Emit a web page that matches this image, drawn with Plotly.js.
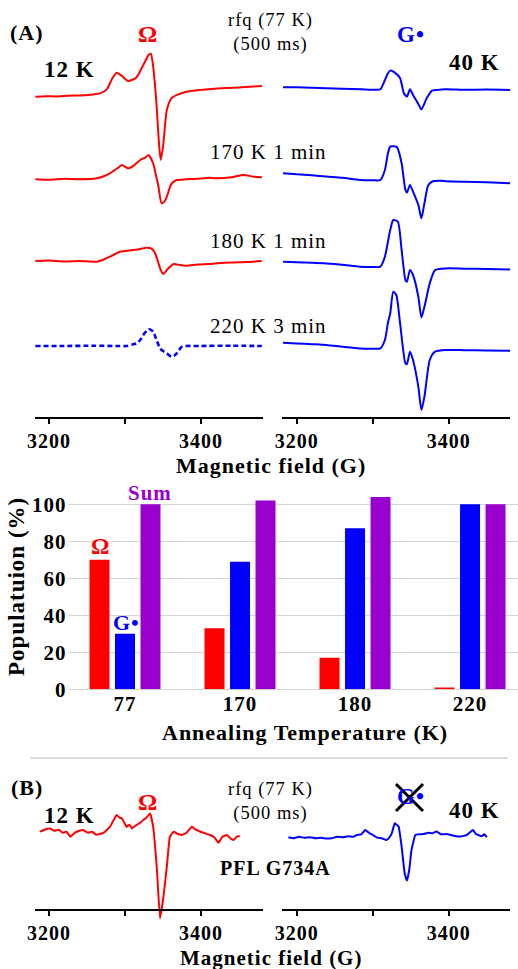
<!DOCTYPE html>
<html><head><meta charset="utf-8">
<script src="https://cdn.plot.ly/plotly-3.0.1.min.js"></script>
<style>body{margin:0;padding:0;background:#fff}#chart{width:518px;height:969px}svg text{letter-spacing:1px}</style>
</head><body><div id="chart"></div>
<script>
// ---------- DATA ----------
// Panel A, 12 K spectra (Omega radical), field in G, intensity in arbitrary units
const a1LeftField = [3182,3195,3210,3225,3240,3255,3267,3276,3283,3289,3296,3304,3315,3324,3331,3334,3337,3341,3345,3347,3350,3355,3361,3370,3381,3395,3410,3421,3435,3450,3465,3480];
const a1LeftInt   = [0,0.5,0.3,1,1.2,2,3.3,7.3,18,24,20.7,15.7,19.3,31.7,41.7,43,30,-3.3,-50,-63.3,-50,-13.3,-1.7,2.3,5,6.5,7.5,8.3,8.8,9.3,10,10.7];
const a2LeftField = [3182,3200,3220,3240,3263,3272,3280,3290,3296,3304,3312,3320,3327,3331,3337,3341,3344,3348,3352,3355,3360,3364,3368,3380,3395,3410,3421,3440,3456,3470,3480];
const a2LeftInt   = [0,-0.5,0.5,0,1,3,6,11,14.3,11,14,19.3,22,24.3,16,3,-7.3,-24,-22,-17.3,-6,-2.3,-0.7,0,0.5,1.5,1,2,4.3,2.5,2];
const a3LeftField = [3182,3200,3220,3240,3263,3272,3280,3287,3293,3300,3311,3320,3328,3333,3337,3341,3344,3347,3350,3354,3357,3364,3372,3381,3395,3410,3421,3440,3460,3480];
const a3LeftInt   = [0,0.5,-0.5,0,-0.7,1.5,4.3,7,9.3,10,11,12,13.3,13,11,5,-2.3,-9,-13,-10,-7.3,-3,-4,-4.7,-3.5,-3,-2.3,-1.5,-1,0];
const a4LeftField = [3182,3220,3260,3290,3302,3310,3315,3320,3324,3329,3332,3337,3341,3346,3350,3355,3361,3365,3368,3375,3400,3440,3480];
const a4LeftInt   = [0,0,0.3,0,0,1.5,2.7,6,11,15.5,16.7,14.3,7,-2.3,-5,-7.3,-10.7,-9.5,-7.3,-0.7,0,0.3,0];
// Panel A, 40 K spectra (G radical)
const a1RightField = [3182,3200,3220,3239,3260,3285,3305,3310,3316,3320,3323,3329,3336,3341,3345,3349,3353,3360,3364,3371,3378,3390,3397,3420,3450,3481];
const a1RightInt   = [0,0,-0.5,-1,-1.5,-2,-2.5,-2,7.3,14,16.7,14.7,9,-6,-9.3,-2,-7.7,-16.7,-22,-11,-3.3,-2.3,-2,-2.5,-2.3,-2.7];
const a2RightField = [3182,3200,3220,3239,3260,3283,3300,3310,3316,3320,3323,3328,3332,3338,3343,3345,3349,3353,3360,3364,3368,3373,3379,3390,3397,3420,3450,3481];
const a2RightInt   = [0,-1,-2,-3.3,-4.5,-6.7,-7,-6.7,3.3,20,26.7,27,26,10,-16.7,-19.3,-11.7,-18.3,-31.7,-45,-30,-12,-8,-7.5,-8,-8.5,-9,-10];
const a3RightField = [3182,3200,3220,3239,3260,3283,3300,3310,3316,3320,3323,3327,3333,3338,3343,3345,3349,3353,3360,3364,3368,3375,3382,3397,3420,3450,3481];
const a3RightInt   = [0,-0.5,-1,-1.7,-3,-5,-5.3,-5,5,20,31.7,41.7,40,11.7,-18.3,-20,-8.3,-13.3,-35,-55.7,-45,-21.7,-8.3,-6.7,-7,-7.3,-7.7];
const a4RightField = [3182,3200,3220,3239,3260,3283,3300,3310,3316,3320,3323,3327,3331,3336,3343,3345,3349,3353,3360,3364,3368,3375,3382,3397,3420,3450,3481];
const a4RightInt   = [0,-0.7,-1.5,-2.3,-4,-5.7,-6,-5.7,2.7,20,29.3,51,47.7,19.3,-20.7,-21.3,-9,-17.3,-44,-67.3,-54,-17.3,-9,-7.3,-7.5,-7.7,-8];
// Panel B, PFL G734A
const bLeftField = [3188,3194,3201,3207,3213,3218,3223,3228,3234,3240,3245,3251,3257,3262,3267,3272,3276,3281,3285,3289,3293,3296,3302,3306,3309,3315,3320,3324,3328,3333,3337,3342,3346,3350,3355,3359,3364,3369,3375,3381,3388,3393,3399,3405,3412,3418,3423,3428,3434,3439,3443,3447,3451];
const bLeftInt   = [0,2,3.3,1,2,-1,0,-5,-1,1,1.7,-1,0,-3,-2.3,-1,1.7,6,11.7,16.7,14,13.3,5,7,3.3,6.7,9,11.7,14,18.3,5,-38.3,-86.7,-68.3,-35,-5,0,-2,-3.3,-1,5,2,0,-1.5,-3.3,-6,-11,-5,-3.3,-7,-8.3,-5,-4.3];
const bRightField = [3189,3196,3203,3210,3218,3225,3232,3239,3246,3253,3261,3268,3274,3279,3285,3290,3296,3301,3305,3312,3318,3322,3325,3329,3334,3338,3342,3345,3348,3351,3356,3361,3367,3373,3378,3384,3390,3397,3404,3410,3415,3420,3424,3428,3432,3436,3439,3443,3447,3450];
const bRightInt   = [0,-1,0.5,-0.5,0,-1,-0.5,-1.3,-1,0.5,0,1,0.5,2.3,3,7.3,4,2,0,-1,-2.7,0,4,14,10.7,-9.3,-36,-43.3,-32.7,-12.7,2.3,3,3.3,4.5,4,5.7,3,3.3,2,1,0.7,1.5,2.3,5,7.3,3,2.3,1,3,0];
// Bar chart
const annealTemps = ['77','170','180','220'];
const omegaPop = [70,33,17,1];
const gPop     = [30,69,87,100];
const sumPop   = [100,102,104,100];
const fieldTickVals = [3200,3300,3400];
const fieldTickText = ['3200','','3400'];

// ---------- LAYOUT HELPERS ----------
const W=518,H=969;
const fx=x=>x/W, fy=y=>1-y/H;
const SERIF='"Liberation Serif", "Times New Roman", serif';
const RED='#ff0000', BLUE='#0000ff', PURPLE='#9900cc';

const spectra = [
  {x:a1LeftField,y:a1LeftInt,col:'x',ref:96.7,color:RED},
  {x:a2LeftField,y:a2LeftInt,col:'x',ref:179.3,color:RED},
  {x:a3LeftField,y:a3LeftInt,col:'x',ref:261,color:RED},
  {x:a4LeftField,y:a4LeftInt,col:'x',ref:346,color:BLUE,dash:'5px,3px'},
  {x:a1RightField,y:a1RightInt,col:'x2',ref:87.3,color:BLUE},
  {x:a2RightField,y:a2RightInt,col:'x2',ref:173.3,color:BLUE},
  {x:a3RightField,y:a3RightInt,col:'x2',ref:261.7,color:BLUE},
  {x:a4RightField,y:a4RightInt,col:'x2',ref:342.7,color:BLUE},
  {x:bLeftField,y:bLeftInt,col:'x4',ref:831.7,color:RED,noisy:true},
  {x:bRightField,y:bRightInt,col:'x5',ref:837.3,color:BLUE,noisy:true}
];

const data=[]; const layout={
  width:W,height:H,margin:{l:0,r:0,t:0,b:0},
  paper_bgcolor:'#ffffff',plot_bgcolor:'rgba(0,0,0,0)',showlegend:false,
  font:{family:SERIF,color:'#000'},
  barmode:'group',bargap:0.335,bargroupgap:0.216,
  annotations:[],shapes:[]
};
const yIdx=[1,2,3,4,5,6,7,8,10,11];
spectra.forEach((s,i)=>{
  const n=yIdx[i]; const yname = n===1?'y':'y'+n;
  data.push({type:'scatter',mode:'lines',x:s.x,y:s.y,xaxis:s.col,yaxis:yname,
    line:{color:s.color,width:s.dash?2.6:2,dash:s.dash||'solid',shape:'spline',smoothing:s.noisy?0.3:0.6},hoverinfo:'skip'});
  const top=s.ref-60,bot=s.ref+90;
  layout[n===1?'yaxis':'yaxis'+n]={domain:[fy(bot),fy(top)],range:[-90,60],visible:false,fixedrange:true};
});
function fieldAxis(x0,x1,yLine){
  return {domain:[fx(x0),fx(x1)],range:[3181,3481],anchor:'free',position:fy(yLine),
    showline:true,linecolor:'#000',linewidth:2,ticks:'outside',ticklen:5,tickwidth:2,tickcolor:'#000',
    tickvals:fieldTickVals,ticktext:fieldTickText,tickfont:{family:SERIF,size:20,weight:'bold',color:'#000'},
    showgrid:false,zeroline:false,fixedrange:true};
}
layout.xaxis=fieldAxis(34.6,262.6,418);
layout.xaxis2=fieldAxis(282.3,510.3,418);
layout.xaxis4=fieldAxis(34.6,262.6,910);
layout.xaxis5=fieldAxis(282.3,510.3,910);

// bar chart
const barTop=689.3-106*1.85;
layout.xaxis3={domain:[fx(67.5),1],range:[-0.5,3.417],type:'category',anchor:'y9',
  showline:false,ticks:'',tickfont:{family:SERIF,size:21,weight:'bold',color:'#000'},showgrid:false,zeroline:false,fixedrange:true};
layout.yaxis9={domain:[fy(689.3),fy(barTop)],range:[0,106],anchor:'x3',tickvals:[0,20,40,60,80,100],
  showgrid:true,gridcolor:'#d4d4d4',gridwidth:1.5,zeroline:true,zerolinecolor:'#d4d4d4',zerolinewidth:1.5,
  showline:false,ticks:'',tickfont:{family:SERIF,size:21,weight:'bold',color:'#000'},fixedrange:true};
[[omegaPop,RED],[gPop,BLUE],[sumPop,PURPLE]].forEach(([v,c])=>{
  data.push({type:'bar',x:annealTemps,y:v,xaxis:'x3',yaxis:'y9',marker:{color:c,line:{width:0}},hoverinfo:'skip'});
});

// annotations
function ann(text,x,y,size,color,bold,extra){
  layout.annotations.push(Object.assign({text:bold?'<b>'+text+'</b>':text,x:fx(x),y:fy(y),xref:'paper',yref:'paper',
    showarrow:false,xanchor:'center',yanchor:'middle',font:{family:SERIF,size:size,color:color}},extra||{}));
}
ann('(A)',27,33,22,'#000',true);
ann('Ω',148,34,24,RED,true);
ann('12 K',69,70,23,'#000',true);
ann('rfq (77 K)<br>(500 ms)',270,33,18.5,'#000',false);
ann('G•',411,34,23,BLUE,true);
ann('40 K',474,63,23,'#000',true);
ann('170 K 1 min',268,152,21,'#000',false);
ann('180 K 1 min',268,241,21,'#000',false);
ann('220 K 3 min',268,326,21,'#000',false);
ann('Magnetic field (G)',271,466,22,'#000',true);
ann('Sum',150,493,21,PURPLE,true);
ann('Ω',100,546,23,RED,true);
ann('G•',126,622,22,BLUE,true);
ann('Populatuion (%)',16,587,23,'#000',true,{textangle:-90});
ann('Annealing Temperature (K)',305,732,22,'#000',true);
ann('(B)',27,787,22,'#000',true);
ann('12 K',69,815,23,'#000',true);
ann('Ω',148,802,24,RED,true);
ann('rfq (77 K)<br>(500 ms)',270,801,18.5,'#000',false);
ann('G•',411,796,23,BLUE,true);
ann('40 K',474,810,23,'#000',true);
ann('PFL G734A',275,868,20,'#000',true);
ann('Magnetic field (G)',271,957.5,21,'#000',true);

// shapes
layout.shapes.push({type:'line',xref:'paper',yref:'paper',x0:fx(30),x1:fx(508),y0:fy(758),y1:fy(758),line:{color:'#d0d0d0',width:1.5}});
layout.shapes.push({type:'line',xref:'paper',yref:'paper',x0:fx(396),x1:fx(423),y0:fy(784),y1:fy(811),line:{color:'#000',width:3}});
layout.shapes.push({type:'line',xref:'paper',yref:'paper',x0:fx(396),x1:fx(423),y0:fy(811),y1:fy(784),line:{color:'#000',width:3}});

Plotly.newPlot('chart',data,layout,{staticPlot:true,displayModeBar:false});
</script></body></html>
